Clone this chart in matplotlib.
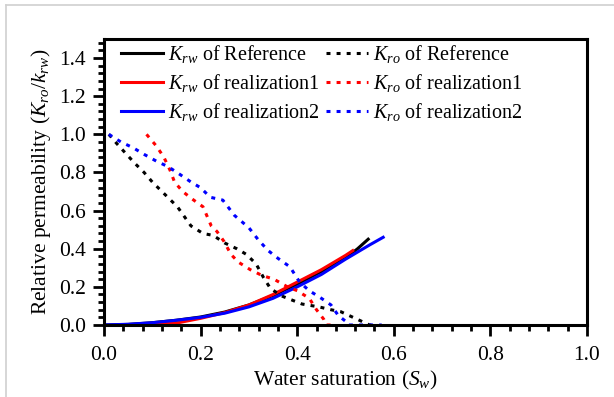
import matplotlib.pyplot as plt
from matplotlib.ticker import MultipleLocator
from matplotlib.lines import Line2D

plt.rcParams['font.family'] = 'Liberation Serif'
plt.rcParams['mathtext.fontset'] = 'custom'
plt.rcParams['mathtext.rm'] = 'Liberation Serif'
plt.rcParams['mathtext.it'] = 'Liberation Serif:italic'

# Krw curves (solid)
sw_krw_ref = [0.0, 0.05, 0.1, 0.15, 0.2, 0.25, 0.3, 0.35, 0.4, 0.45, 0.5, 0.525, 0.547]
krw_ref = [0.0, 0.003, 0.012, 0.025, 0.042, 0.068, 0.105, 0.155, 0.215, 0.28, 0.35, 0.40, 0.45]
sw_krw_r1 = [0.08, 0.1, 0.15, 0.2, 0.25, 0.3, 0.35, 0.4, 0.45, 0.5, 0.515]
krw_r1 = [0.0, 0.002, 0.01, 0.035, 0.065, 0.105, 0.16, 0.225, 0.29, 0.365, 0.39]
sw_krw_r2 = [0.0, 0.05, 0.1, 0.15, 0.2, 0.25, 0.3, 0.35, 0.4, 0.45, 0.5, 0.55, 0.578]
krw_r2 = [0.0, 0.004, 0.012, 0.025, 0.04, 0.062, 0.095, 0.14, 0.2, 0.265, 0.345, 0.42, 0.46]

# Kro curves (dotted)
sw_kro_ref = [0.01, 0.027, 0.063, 0.083, 0.10, 0.12, 0.152, 0.18, 0.205, 0.226, 0.25, 0.275,
              0.295, 0.315, 0.33, 0.345, 0.37, 0.39, 0.41, 0.445, 0.47, 0.49, 0.52, 0.55, 0.56]
kro_ref = [1.0, 0.95, 0.85, 0.80, 0.75, 0.70, 0.62, 0.52, 0.48, 0.47, 0.43, 0.40,
           0.37, 0.32, 0.25, 0.19, 0.15, 0.13, 0.11, 0.095, 0.08, 0.07, 0.035, 0.0, 0.0]
sw_kro_r1 = [0.088, 0.108, 0.124, 0.137, 0.146, 0.163, 0.183, 0.205, 0.222, 0.234, 0.248, 0.263,
             0.278, 0.303, 0.327, 0.352, 0.38, 0.40, 0.425, 0.44, 0.455, 0.46, 0.48]
kro_r1 = [1.0, 0.94, 0.88, 0.81, 0.75, 0.70, 0.66, 0.62, 0.52, 0.49, 0.44, 0.37,
          0.33, 0.29, 0.26, 0.24, 0.20, 0.18, 0.14, 0.08, 0.03, 0.0, 0.0]
sw_kro_r2 = [0.01, 0.035, 0.06, 0.083, 0.108, 0.133, 0.157, 0.18, 0.2, 0.22, 0.246, 0.27, 0.30,
             0.32, 0.34, 0.36, 0.385, 0.405, 0.425, 0.45, 0.47, 0.485, 0.5, 0.505, 0.575]
kro_r2 = [1.0, 0.96, 0.93, 0.895, 0.86, 0.83, 0.79, 0.75, 0.72, 0.67, 0.655, 0.575, 0.51,
          0.445, 0.39, 0.35, 0.305, 0.225, 0.18, 0.14, 0.105, 0.05, 0.02, 0.0, 0.0]

labels_krw = [r'$K_{rw}$ of Reference', r'$K_{rw}$ of realization1', r'$K_{rw}$ of realization2']
labels_kro = [r'$K_{ro}$ of Reference', r'$K_{ro}$ of realization1', r'$K_{ro}$ of realization2']
colors = ['black', 'red', 'blue']

fig = plt.figure(figsize=(6.14, 3.97), dpi=100)
# axes box: x 104..587 px, y 39..325 px
ax = fig.add_axes([104 / 614, 1 - 325 / 397, 483 / 614, 286 / 397])

krw_sets = [(sw_krw_ref, krw_ref), (sw_krw_r1, krw_r1), (sw_krw_r2, krw_r2)]
kro_sets = [(sw_kro_ref, kro_ref), (sw_kro_r1, kro_r1), (sw_kro_r2, kro_r2)]

for (x, y), c, lab in zip(krw_sets, colors, labels_krw):
    ax.plot(x, y, color=c, lw=2.2, label=lab)
for (x, y), c, lab in zip(kro_sets, colors, labels_kro):
    ax.plot(x, y, color=c, lw=2.2, dashes=(1.3, 2.0), label=lab)

ax.set_xlim(0, 1.0)
ax.set_ylim(0, 1.5)
ax.xaxis.set_major_locator(MultipleLocator(0.2))
ax.xaxis.set_minor_locator(MultipleLocator(0.04))
ax.yaxis.set_minor_locator(MultipleLocator(0.04))
ax.set_yticks([0, 0.2, 0.4, 0.6, 0.8, 1.0, 1.2, 1.4])
ax.tick_params(which='major', direction='out', length=8, width=2, labelsize=15.5)
ax.tick_params(axis='x', which='major', pad=7)
ax.tick_params(axis='y', which='major', pad=5)
ax.tick_params(which='minor', direction='out', length=4.5, width=2)
ax.tick_params(top=False, right=False, which='both')
for s in ax.spines.values():
    s.set_linewidth(2.2)

ax.set_xlabel(r'Water saturation ($S_w$)', fontsize=15.5, labelpad=3)
ax.set_ylabel(r'Relative permeability ($K_{ro}$/$k_{rw}$)', fontsize=15.5, labelpad=4)

ax.legend(loc='upper left', ncol=2, frameon=False, fontsize=14.5, handlelength=2.1,
          columnspacing=0.3, handletextpad=0.25, labelspacing=0.35,
          borderaxespad=0.1, borderpad=0.25, bbox_to_anchor=(0.02, 1.01))

# light gray screenshot frame
fig.add_artist(Line2D([0.01, 1.0], [0.987, 0.987], color='#d0d0d0', lw=1.2, transform=fig.transFigure))
fig.add_artist(Line2D([0.01, 0.01], [0.0, 0.987], color='#d0d0d0', lw=1.2, transform=fig.transFigure))

fig.savefig('out.png', dpi=100)
